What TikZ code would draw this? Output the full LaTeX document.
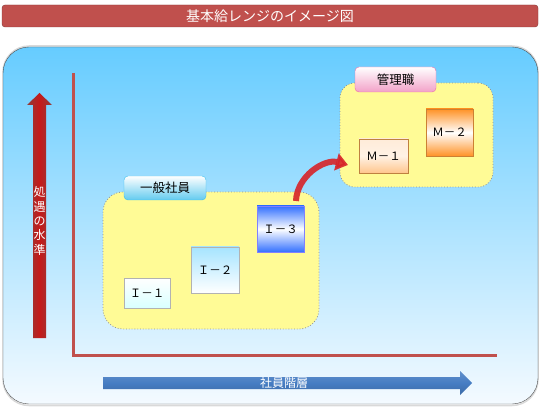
\documentclass[tikz,border=0pt]{standalone}
\usepackage{fontspec}
\setmainfont{Noto Sans CJK JP}
\usetikzlibrary{arrows.meta}

\definecolor{titlered}{RGB}{192,80,77}
\definecolor{skyblue}{RGB}{102,204,255}
\definecolor{paleblue}{RGB}{244,250,255}
\definecolor{groupyellow}{RGB}{255,251,150}
\definecolor{tabcyan}{RGB}{60,190,235}
\definecolor{tabpink}{RGB}{235,110,170}
\definecolor{arrowblue}{RGB}{70,125,195}
\definecolor{curvered}{RGB}{215,35,40}

\begin{document}
\begin{tikzpicture}[x=1pt, y=1pt, >=latex,
    groupbox/.style={draw=gray!85, dotted, line width=0.8pt, fill=groupyellow},
    tabbox/.style={rounded corners=4pt, thin, font=\fontsize{12.5}{12.5}\selectfont, inner sep=0pt},
    rankbox/.style={draw=gray!60, thin, inner sep=0pt, font=\fontsize{11.5}{11.5}\selectfont}]
        \useasboundingbox (0,0) rectangle (540,407);
        % ==== TITLE ====
        \node[draw=titlered!70!black, fill=titlered, rounded corners=3pt,
              minimum width=536, minimum height=22, inner sep=0pt,
              text=white, font=\fontsize{14}{14}\selectfont] (title) at (270,391) {基本給レンジのイメージ図};
        % ==== PANEL ====
        \draw[draw=gray!30, line width=1.5pt, rounded corners=26pt] (3,1.5) rectangle (538,361);
        \shade[top color=skyblue, bottom color=paleblue, draw=black!70, rounded corners=26pt]
            (3,3) rectangle (538,360);
        % ==== AXES ====
        \draw[titlered, line width=3pt] (73,334) -- (73,52) -- (497,52);
        % ==== LEVEL ARROW (vertical) ====
        \shade[left color=titlered!75!black, right color=titlered!75!black, middle color=red!75!black!90]
            (33,69) -- (46,69) -- (46,302) -- (52,302) -- (39.5,314) -- (27,302) -- (33,302) -- cycle;
        \node[text=white, font=\fontsize{12}{14.4}\selectfont, align=center, inner sep=0pt] (levelLabel)
            at (39.5,186) {処\\遇\\の\\水\\準};
        % ==== RANK ARROW (horizontal) ====
        \shade[top color=arrowblue!85, bottom color=arrowblue!85!black, middle color=arrowblue]
            (103,18) -- (460,18) -- (460,12) -- (472,24) -- (460,36) -- (460,30) -- (103,30) -- cycle;
        \node[text=white, font=\fontsize{12}{12}\selectfont, inner sep=0pt] (rankLabel) at (284,24) {社員階層};
        % ==== GENERAL STAFF GROUP ====
        \node[groupbox, rounded corners=20pt, minimum width=216, minimum height=137] (staffGroup) at (211,146.5) {};
        \node[tabbox, draw=tabcyan, top color=white, bottom color=tabcyan!80,
              minimum width=82, minimum height=24] (staffTab) at (165,219) {一般社員};
        \node[rankbox, top color=white, bottom color=cyan!15, minimum width=46, minimum height=30] (i1) at (147,114) {Ｉ－１};
        \node[rankbox, top color=blue!30!cyan!35, bottom color=white, minimum width=48, minimum height=46] (i2) at (215,137) {Ｉ－２};
        \node[rankbox, draw=blue!50, top color=blue!70!cyan!80, bottom color=blue!70!cyan!80, middle color=white,
              minimum width=47, minimum height=46] (i3) at (280.5,178) {Ｉ－３};
        % ==== MANAGEMENT GROUP ====
        \node[groupbox, rounded corners=15pt, minimum width=153, minimum height=104] (mgrGroup) at (416.5,272) {};
        \node[tabbox, draw=tabpink, top color=white, bottom color=tabpink!65,
              minimum width=81, minimum height=25] (mgrTab) at (395.5,327.5) {管理職};
        \node[rankbox, draw=orange!50!gray, top color=orange!15, bottom color=orange!45, middle color=white!90!orange,
              minimum width=49, minimum height=34] (m1) at (383.5,251) {Ｍ－１};
        \node[rankbox, draw=orange!60!gray, top color=orange!85, bottom color=orange!85, middle color=white,
              minimum width=47, minimum height=47] (m2) at (449.5,274.5) {Ｍ－２};
        % ==== PROMOTION ARROW ====
        \coordinate (promoStart) at (296,206);
        \coordinate (promoEnd) at (348,242);
        \draw[curvered, opacity=0.9, line width=6pt, -{Triangle[length=12pt, width=17pt]}]
            (promoStart) to[out=88, in=165] (promoEnd);
\end{tikzpicture}
\end{document}
